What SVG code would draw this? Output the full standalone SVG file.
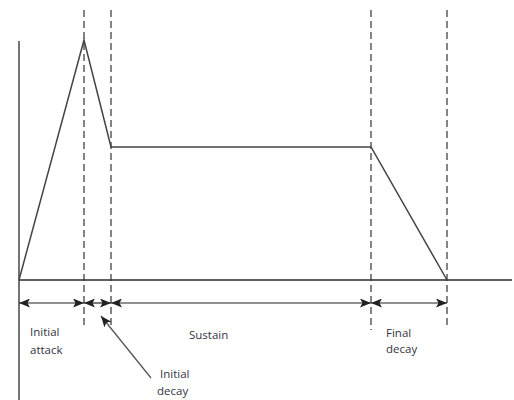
<svg xmlns="http://www.w3.org/2000/svg" width="514" height="400" viewBox="0 0 514 400">
<style>
.ax{stroke:#2a2a2a;stroke-width:1.3;fill:none}
.env{stroke:#444;stroke-width:1.5;fill:none;stroke-linejoin:miter}
.dash{stroke:#333;stroke-width:1.2;stroke-dasharray:7 4;fill:none}
.dim{stroke:#222;stroke-width:1.2;fill:none;marker-start:url(#hs);marker-end:url(#he)}
.ptr{stroke:#555;stroke-width:1.3;fill:none;marker-end:url(#he)}
text{font-family:"Open Sans","Noto Sans",sans-serif;font-size:11.5px;fill:#33333f}
</style>
<defs>
<marker id="he" viewBox="0 0 11 9" refX="11" refY="4.5" markerWidth="11" markerHeight="9" markerUnits="userSpaceOnUse" orient="auto"><path d="M0,0 L11,4.5 L0,9 L2.5,4.5 Z" fill="#222"/></marker>
<marker id="hs" viewBox="0 0 11 9" refX="0" refY="4.5" markerWidth="11" markerHeight="9" markerUnits="userSpaceOnUse" orient="auto"><path d="M11,0 L0,4.5 L11,9 L8.5,4.5 Z" fill="#222"/></marker>
</defs>
<g id="axes">
<line class="ax" x1="19" y1="41" x2="19" y2="400"/>
<line class="ax" x1="19" y1="280" x2="512" y2="280"/>
</g>
<g id="guides">
<line class="dash" x1="84" y1="10" x2="84" y2="327"/>
<line class="dash" x1="111" y1="10" x2="111" y2="327"/>
<line class="dash" x1="371" y1="10" x2="371" y2="330"/>
<line class="dash" x1="447" y1="10" x2="447" y2="328"/>
</g>
<g id="envelope">
<polyline class="env" points="19,280 84,40 111,147 371,147 447,280"/>
</g>
<g id="connectors">
<line class="dim" x1="19" y1="303" x2="84" y2="303"/>
<line class="dim" x1="84" y1="303" x2="111" y2="303"/>
<line class="dim" x1="111" y1="303" x2="371" y2="303"/>
<line class="dim" x1="371" y1="303" x2="447" y2="303"/>
<line class="ptr" x1="151" y1="378" x2="101" y2="316"/>
</g>
<g id="label-attack"><text x="30" y="336">Initial</text><text x="30" y="354">attack</text></g>
<g id="label-sustain"><text x="189" y="339">Sustain</text></g>
<g id="label-decay"><text x="160" y="378">Initial</text><text x="157" y="395">decay</text></g>
<g id="label-final"><text x="386" y="337">Final</text><text x="386" y="353">decay</text></g>
</svg>
